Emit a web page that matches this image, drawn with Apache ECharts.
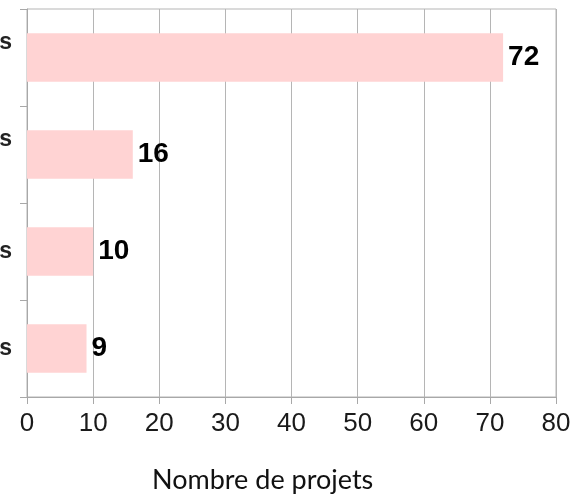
<!DOCTYPE html>
<html>
<head>
<meta charset="utf-8">
<script src="https://cdn.jsdelivr.net/npm/echarts@6/dist/echarts.min.js"></script>
<style>
  html, body { margin: 0; padding: 0; background: #fff; }
  #chart { width: 574px; height: 495px; }
</style>
</head>
<body>
<div id="chart"></div>
<script>
// labels are cut off at the left edge in the source, only the last letter shows;
// the first two wrap onto a second line that falls outside the picture
const categories = ["s\n ", "s\n  ", "s", "s "]
const values = [72, 16, 10, 9]
const xTicks = [0, 10, 20, 30, 40, 50, 60, 70, 80]

const myChart = echarts.init(document.getElementById("chart"))
myChart.setOption({
    animation: false,
    title: {
        text: "Nombre de projets",
        left: 147,
        top: 462,
        textStyle: {
            fontFamily: "Lato",
            fontSize: 27,
            fontWeight: "normal",
            color: "#111",
        },
    },
    grid: {
        left: 27,
        right: 18,
        top: 9,
        bottom: 98,
        containLabel: false,
        outerBoundsMode: "none",
        show: true,
        borderColor: "#b5b5b5",
        borderWidth: 1,
    },
    xAxis: {
        type: "value",
        min: xTicks[0],
        max: xTicks[xTicks.length - 1],
        interval: 10,
        axisLine: { show: true, lineStyle: { color: "#a8a8a8" } },
        axisTick: { show: true, length: 7, lineStyle: { color: "#a8a8a8" } },
        splitLine: { show: true, lineStyle: { color: "#b5b5b5" } },
        axisLabel: {
            fontFamily: "Liberation Sans",
            fontSize: 26,
            color: "#1a1a1a",
            margin: 14,
        },
    },
    yAxis: {
        type: "category",
        inverse: true,
        data: categories,
        axisLine: { show: true, lineStyle: { color: "#a8a8a8" } },
        axisTick: { show: true, length: 7, lineStyle: { color: "#a8a8a8" } },
        axisLabel: {
            fontFamily: "Liberation Sans",
            fontSize: 23,
            fontWeight: "bold",
            lineHeight: 30,
            color: "#222",
            margin: 15,
            formatter: (v) => v.split("\n").map((s) => s.trim()).join("\n"),
        },
    },
    series: [
        {
            type: "bar",
            data: values,
            barWidth: "50%",
            itemStyle: { color: "#ffd3d3" },
            label: {
                show: true,
                position: "right",
                distance: 5,
                fontFamily: "Liberation Sans",
                fontSize: 28,
                fontWeight: "bold",
                color: "#000",
            },
        },
    ],
})
</script>
</body>
</html>
